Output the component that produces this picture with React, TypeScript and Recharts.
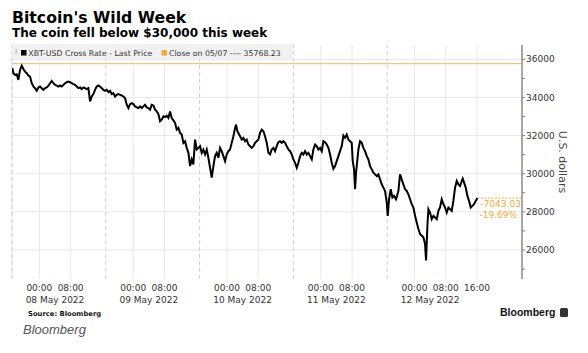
import React from 'react';
import { LineChart, Line, XAxis, YAxis, CartesianGrid, ReferenceLine } from 'recharts';

// hours since 08 May 2022 00:00
const hours = [
  -6.9, -6.64, -6.22, -5.79, -5.37, -4.94, -4.51, -4.09, -3.66, -3.23, -2.81, -2.38, -1.95, -1.53, -1.1, -0.67, -0.25,
  0.18, 0.61, 1.03, 1.46, 1.89, 2.31, 2.74, 3.16, 3.59, 4.02, 4.44, 4.87, 5.3, 5.72, 6.15, 6.58, 7.0, 7.43, 7.86,
  8.28, 8.71, 9.14, 9.56, 9.99, 10.42, 10.84, 11.27, 11.7, 12.12, 12.55, 12.97, 13.4, 13.83, 14.25, 14.68, 15.11,
  15.53, 15.96, 16.39, 16.81, 17.24, 17.66, 18.09, 18.52, 18.94, 19.37, 19.8, 20.22, 20.65, 21.08, 21.5, 21.93,
  22.36, 22.78, 23.21, 23.64, 24.06, 24.49, 24.92, 25.34, 25.77, 26.2, 26.62, 27.05, 27.47, 27.9, 28.33, 28.75,
  29.18, 29.61, 30.03, 30.46, 30.89, 31.31, 31.74,
  32.16, 32.59, 33.02, 33.44, 33.87, 34.3, 34.72, 35.15, 35.58, 36.0, 36.43, 36.86, 37.28, 37.71, 38.14, 38.56,
  38.99, 39.41, 39.84, 40.27, 40.69, 41.12, 41.55, 41.97, 42.4, 42.83, 43.25, 43.68, 44.11, 44.53, 44.96, 45.39,
  45.81, 46.24, 46.66, 47.09, 47.52, 47.94, 48.37, 48.8, 49.22, 49.65, 50.08, 50.33, 50.67, 51.36, 51.78, 52.21,
  52.64, 53.06, 53.49, 53.91, 54.34, 54.77, 55.19, 55.62, 56.05, 56.47, 56.9, 57.33, 57.75, 58.18, 58.61, 59.03,
  59.46, 59.89, 60.31, 60.74, 61.16, 61.59, 62.02, 62.44, 62.87, 63.3, 63.72, 64.15, 64.58, 65.0, 65.43, 65.86,
  66.28, 66.71, 67.14, 67.56, 67.99, 68.42, 68.84, 69.27, 69.7, 70.12, 70.55, 70.97, 71.4, 71.83, 72.25, 72.68,
  73.11, 73.53, 73.96, 74.39, 74.81, 75.24, 75.67, 76.09, 76.52, 76.94, 77.37, 77.8, 78.22, 78.65, 79.08, 79.5,
  79.93, 80.19, 80.53, 80.78, 81.04, 81.38, 81.64, 82.06, 82.49, 82.92, 83.34, 83.77, 84.2, 84.62, 85.05, 85.47,
  85.9, 86.33, 86.75, 87.18, 87.61, 88.03, 88.46, 88.89, 89.14, 89.48, 89.91, 90.34, 90.76, 91.27, 91.87, 92.3,
  92.72, 93.15, 93.58, 94.0, 94.43, 94.86, 95.28, 95.71, 96.14, 96.56, 96.99, 97.42, 97.84, 98.27, 98.69, 98.95,
  99.29, 99.55, 99.97, 100.4, 100.83, 101.25, 101.68, 102.11, 102.53, 102.96, 103.39, 103.81, 104.24, 104.67,
  105.09, 105.52, 105.94, 106.37, 106.8, 107.22, 107.65, 108.08, 108.33, 108.67, 109.1, 109.53, 109.95, 110.38,
  110.81, 111.23, 111.66, 112.09,
];

const prices = [
  35529, 35268, 35181, 35216, 34920, 35442, 35668, 35494, 35355, 35268, 35146, 35094, 34746, 34573, 34486, 34347, 34520,
  34573, 34486, 34399, 34486, 34520, 34625, 34746, 34868, 34746, 34660, 34625, 34573, 34625, 34573, 34660, 34746, 34799, 34833, 34799,
  34746, 34694, 34660, 34573, 34486, 34520, 34434, 34520, 34486, 34434, 34486, 33790, 34051, 34173, 34399, 34573, 34625,
  34573, 34486, 34399, 34347, 34399, 34277, 34347, 34173, 34225, 34051, 34138, 34173, 34138, 34103, 34051, 33964,
  33617, 33443, 33651, 33704, 33651, 33530, 33479, 33443, 33530, 33443, 33530, 33617, 33479, 33443, 33356, 33617,
  33582, 33356, 33269, 33130, 32747, 32834, 33008,
  32973, 33043, 32921, 33269, 32921, 32800, 32661, 32313, 32400, 32139, 32052, 31618, 31705, 31357, 31096, 30401,
  30749, 30488, 31792, 31270, 31357, 31444, 31096, 31270, 31009, 31270, 30836, 30314, 29792, 30401, 30922, 31096,
  30836, 31357, 31183, 30922, 30662, 31009, 31183, 31270, 31618, 31965, 32400, 32574, 32226, 31965, 31792, 31878,
  31705, 31792, 31531, 31444, 31357, 31444, 31618, 31705, 31792, 32139, 32313, 32226, 31965, 31618, 31096, 31009,
  31270, 31357, 31183, 31444, 31653, 31705, 31618, 31705, 31618, 31444, 31270, 31183, 31009, 30749, 30575, 30314,
  30575, 30922, 31096, 31009, 31183, 31009, 31096, 30922, 30749, 31270, 31531, 31444, 31270, 31357, 31183, 31705,
  31652, 31531, 31357, 31009, 30575, 30262, 30401, 30662, 30922, 31183, 31444, 32000, 31878, 32052, 31792, 31705,
  31618, 30662, 30227, 29184, 30053, 30749, 31270, 31705, 31618, 31357, 31183, 30922, 30749, 30401, 30227, 30053,
  29966, 29879, 29966, 29705, 29445, 29271, 29097, 28489, 27793, 28663, 29184, 28750, 28837, 28663, 29097, 29966,
  29705, 29445, 29184, 29097, 28923, 28663, 28402, 28228, 27793, 27446, 27098, 26837, 26751, 26664, 26316, 25447,
  27272, 28141, 27967, 27620, 27793, 27707, 27620, 28054, 28228, 28663, 28402, 28228, 27967, 28228,
  28141, 28054, 28576, 29271, 29619, 29445, 29358, 29619, 29740, 29532, 29271, 28837, 28576, 28228,
  28315, 28402, 28576, 28725.2,
];

const timeTicks = [0, 8, 24, 32, 48, 56, 72, 80, 96, 104, 112];
const timeTickLabels = ['00:00', '08:00', '00:00', '08:00', '00:00', '08:00', '00:00', '08:00', '00:00', '08:00', '16:00'];
const dateTicks = [4, 28, 52, 76, 100];
const dateLabels = ['08 May 2022', '09 May 2022', '10 May 2022', '11 May 2022', '12 May 2022'];
const sessionBreaks = [-7, 17, 41, 65, 89];
const yTicks = [25000, 26000, 27000, 28000, 29000, 30000, 31000, 32000, 33000, 34000, 35000, 36000];
const gridValues = [26000, 28000, 30000, 32000, 34000, 36000];
const closeValue = 35768.23;
const changeAbs = '-7043.03';
const changePct = '-19.69%';
const xDomain = [-7, 123.5];
const yDomain = [24480, 36750];

const data = hours.map((t, i) => ({ t, price: prices[i] }));
const lastT = hours[hours.length - 1];
const lastV = prices[prices.length - 1];

const FONT = '"DejaVu Sans", Verdana, sans-serif';
const ORANGE = '#f2a93b';

const TimeTick = (props: any) => {
  const { x, y, payload } = props;
  const idx = timeTicks.indexOf(payload.value);
  return (
    <text x={x} y={y} dy="0.355em" textAnchor="middle" fontSize={9} fontFamily={FONT} fill="#333">
      {timeTickLabels[idx]}
    </text>
  );
};

const DateTick = (props: any) => {
  const { x, y, payload } = props;
  const idx = dateTicks.indexOf(payload.value);
  return (
    <text x={x} y={y} dy="0.355em" textAnchor="middle" fontSize={9} fontFamily={FONT} fill="#333">
      {dateLabels[idx]}
    </text>
  );
};

const PriceTick = (props: any) => {
  const { x, y, payload } = props;
  if (payload.value % 2000 !== 0) return <g />;
  return (
    <text x={x} y={y} dy="0.355em" textAnchor="start" fontSize={9} fontFamily={FONT} fill="#333">
      {payload.value}
    </text>
  );
};

const YLabel = (props: any) => {
  const vb = props.viewBox;
  const cx = vb.x + 40;
  const cy = vb.y + vb.height / 2;
  return (
    <text x={cx} y={cy} textAnchor="middle" dominantBaseline="central" fontSize={11} fontFamily={FONT} fill="#444"
      transform={`rotate(90, ${cx}, ${cy})`}>
      U.S. dollars
    </text>
  );
};

const ChangeLabel = (props: any) => {
  const vb = props.viewBox;
  return (
    <g>
      <text x={vb.x + 3} y={vb.y + 9} fontSize={9} fontFamily={FONT} fill={ORANGE}>{changeAbs}</text>
      <text x={vb.x + 2} y={vb.y + 19.6} fontSize={9} fontFamily={FONT} fill={ORANGE}>{changePct}</text>
    </g>
  );
};

export default function App() {
  return (
    <div style={{ position: 'absolute', left: 0, top: 0, width: 588, height: 353, background: '#fff', overflow: 'hidden' }}>
      <LineChart width={588} height={353} data={data} margin={{ top: 45, right: 0, left: 12, bottom: 47 }}>
        <CartesianGrid horizontal={false} vertical={true} stroke="#e8e8e8" strokeWidth={1} />
        {gridValues.map((v) => (
          <ReferenceLine key={'g' + v} y={v} stroke="#e8e8e8" strokeWidth={1} />
        ))}
        {sessionBreaks.map((t) => (
          <ReferenceLine key={'s' + t} x={t} stroke="#cfcfcf" strokeDasharray="4 3" strokeWidth={1} />
        ))}
        <ReferenceLine y={closeValue} stroke="#f6c283" strokeWidth={1.2} />
        <ReferenceLine
          segment={[{ x: lastT, y: lastV }, { x: xDomain[1], y: lastV }]}
          stroke={ORANGE}
          strokeDasharray="2 1.5"
          strokeWidth={1}
          label={<ChangeLabel />}
        />
        <XAxis
          dataKey="t"
          type="number"
          domain={xDomain}
          ticks={timeTicks}
          tick={<TimeTick />}
          tickLine={false}
          axisLine={false}
          tickSize={0}
          tickMargin={8.5}
          height={13}
          allowDataOverflow
          interval={0}
        />
        <XAxis
          xAxisId="date"
          dataKey="t"
          type="number"
          domain={xDomain}
          ticks={dateTicks}
          tick={<DateTick />}
          tickLine={false}
          axisLine={false}
          tickSize={0}
          tickMargin={8}
          height={14}
          allowDataOverflow
          interval={0}
        />
        <YAxis
          orientation="right"
          domain={yDomain}
          ticks={yTicks}
          tick={<PriceTick />}
          tickSize={3}
          tickMargin={1}
          width={66}
          interval={0}
          allowDataOverflow
          axisLine={{ stroke: '#808080', strokeWidth: 1.3 }}
          tickLine={{ stroke: '#808080', strokeWidth: 1 }}
          label={<YLabel />}
        />
        <Line
          type="linear"
          dataKey="price"
          stroke="#000"
          strokeWidth={2}
          strokeLinejoin="miter"
          dot={false}
          isAnimationActive={false}
        />
      </LineChart>
      <svg width={588} height={353} style={{ position: 'absolute', left: 0, top: 0, pointerEvents: 'none' }}>
        <text x={12} y={22.7} fontSize={15.7} fontWeight="bold" fontFamily={FONT} fill="#000">Bitcoin's Wild Week</text>
        <text x={12} y={37.3} fontSize={12} fontWeight="bold" fontFamily={FONT} fill="#000">The coin fell below $30,000 this week</text>
        <rect x={12} y={44} width={281} height={15} fill="#f1f1f1" />
        <rect x={15.5} y={49} width={1.2} height={5} fill="#bbb" />
        <rect x={21} y={50} width={5.5} height={5.5} fill="#000" />
        <text x={28.3} y={55.6} fontSize={7.8} fontFamily={FONT} fill="#333">XBT-USD Cross Rate - Last Price</text>
        <rect x={161.5} y={50} width={5.5} height={5.5} fill={ORANGE} />
        <text x={169} y={55.6} fontSize={7.8} fontFamily={FONT} fill="#333">Close on 05/07 ---- 35768.23</text>
        <text x={28} y={316} fontSize={6.8} fontWeight="bold" fontFamily={FONT} fill="#111">Source: Bloomberg</text>
        <text x={23} y={333.5} fontSize={13} fontStyle="italic" fontFamily='"Liberation Sans", Arial, sans-serif' fill="#555">Bloomberg</text>
        <text x={500} y={315.7} fontSize={10.5} fontWeight="bold" fontFamily='"Liberation Sans", Arial, sans-serif' fill="#111">Bloomberg</text>
        <rect x={560} y={308} width={8} height={9} rx={1.5} fill="#333" />
      </svg>
    </div>
  );
}
